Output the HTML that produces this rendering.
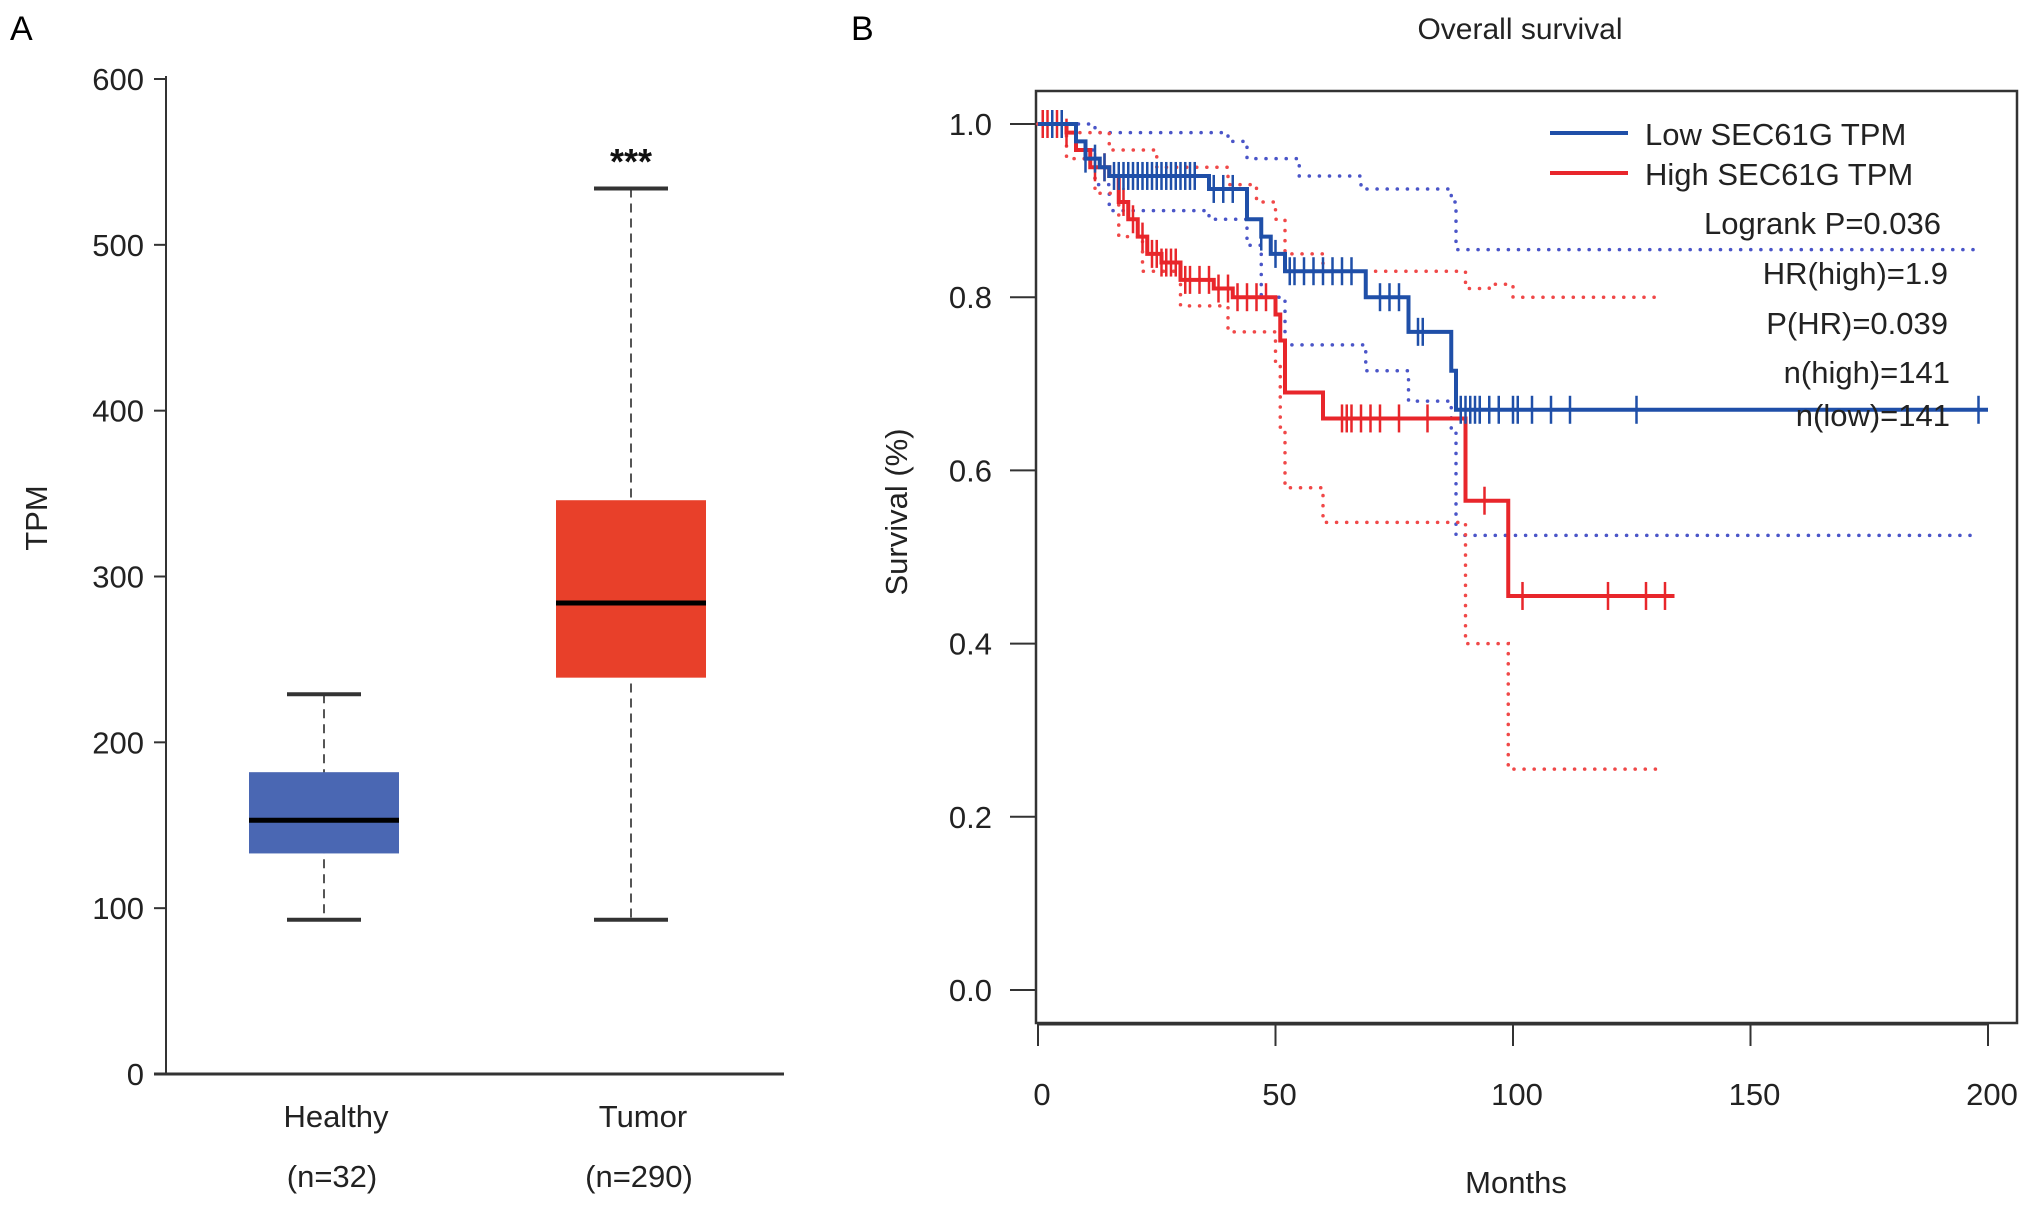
<!DOCTYPE html>
<html><head><meta charset="utf-8"><style>
html,body{margin:0;padding:0;background:#fff;}
svg{display:block;font-family:"Liberation Sans",Arial,sans-serif;}
</style></head><body>
<svg id="fig" width="2031" height="1207" viewBox="0 0 2031 1207" xmlns="http://www.w3.org/2000/svg">
<text x="10" y="40" font-size="34">A</text>
<text x="851" y="40" font-size="34">B</text>
<g id="boxplot"></g>
<g id="km"></g>
</svg>
<script>
// ---- Panel A data ----
const groups = ["Healthy", "Tumor"];
const groupN = ["(n=32)", "(n=290)"];
const whiskerLow = [93, 93];
const q1 = [133, 239];
const medians = [153, 284];
const q3 = [182, 346];
const whiskerHigh = [229, 534];
const boxColors = ["#4a67b3", "#e8402a"];
const tpmTicks = [0, 100, 200, 300, 400, 500, 600];

// ---- Panel B data ----
const kmTicksX = [0, 50, 100, 150, 200];
const kmTicksY = [0.0, 0.2, 0.4, 0.6, 0.8, 1.0];
const lowT = [0, 8, 10, 13, 15, 36, 44, 47, 49, 52, 69, 78, 87, 88, 200];
const lowS = [1.0, 0.98, 0.96, 0.95, 0.94, 0.925, 0.89, 0.87, 0.85, 0.83, 0.80, 0.76, 0.715, 0.67, 0.67];
const highT = [0, 6, 8, 11, 15, 17, 19, 21, 23, 26, 30, 37, 41, 50, 51, 52, 60, 90, 99, 134];
const highS = [1.0, 0.99, 0.97, 0.95, 0.94, 0.91, 0.89, 0.87, 0.85, 0.84, 0.82, 0.81, 0.80, 0.78, 0.75, 0.69, 0.66, 0.565, 0.455, 0.455];
const lowCens = [3, 5, 10, 12, 14, 16, 17, 18, 19, 20, 21, 22, 23, 24, 25, 26, 27, 28, 29, 30, 31, 32, 33, 37, 39, 41, 47, 50, 53, 54, 56, 58, 60, 62, 64, 66, 72, 74, 76, 80, 81, 89, 90, 91, 92, 93, 95, 97, 100, 101, 104, 108, 112, 126, 198];
const highCens = [1, 2, 3, 4, 5, 6, 12, 14, 18, 20, 22, 24, 25, 26, 27, 28, 29, 31, 32, 34, 36, 38, 40, 42, 44, 46, 48, 64, 65, 66, 68, 70, 72, 76, 82, 94, 102, 120, 128, 132];
const lowUpT = [0, 10, 12, 40, 44, 55, 68, 87, 88, 198];
const lowUpS = [1.0, 1.0, 0.99, 0.98, 0.96, 0.94, 0.925, 0.91, 0.855, 0.855];
const lowLoT = [0, 8, 12, 15, 36, 44, 47, 52, 69, 78, 87, 88, 198];
const lowLoS = [1.0, 0.97, 0.93, 0.90, 0.89, 0.86, 0.80, 0.745, 0.715, 0.68, 0.645, 0.525, 0.525];
const highUpT = [0, 8, 15, 25, 40, 46, 50, 52, 60, 90, 95, 100, 131];
const highUpS = [1.0, 0.99, 0.97, 0.95, 0.93, 0.91, 0.89, 0.85, 0.83, 0.81, 0.815, 0.80, 0.80];
const highLoT = [0, 6, 12, 17, 22, 30, 40, 50, 51, 52, 60, 90, 99, 131];
const highLoS = [1.0, 0.96, 0.92, 0.87, 0.83, 0.79, 0.76, 0.72, 0.65, 0.58, 0.54, 0.40, 0.255, 0.255];

const NS = "http://www.w3.org/2000/svg";
function mk(parent, tag, attrs, text) {
  const e = document.createElementNS(NS, tag);
  for (const k in attrs) e.setAttribute(k, attrs[k]);
  if (text !== undefined) e.textContent = text;
  parent.appendChild(e);
  return e;
}

// ===== Panel A =====
const A = document.getElementById('boxplot');
const ay = v => 1074 - v * (995 / 600);
const axCenters = [324, 631];
const boxHalf = 75;
let e;
e = mk(A, 'line', {x1: 166, y1: 76, x2: 166, y2: 1074, stroke: '#333', 'stroke-width': 2});
 
e = mk(A, 'line', {x1: 154, y1: 1074, x2: 784, y2: 1074, stroke: '#333', 'stroke-width': 3});
 
tpmTicks.forEach(t => {
  const y = ay(t);
  e = mk(A, 'line', {x1: 154, y1: y, x2: 166, y2: y, stroke: '#333', 'stroke-width': 2});
   
  e = mk(A, 'text', {x: 144, y: y + 11, 'font-size': 31, 'text-anchor': 'end', fill: '#222'}, String(t));
   
});
e = mk(A, 'text', {x: 47, y: 518, 'font-size': 31, 'text-anchor': 'middle', transform: 'rotate(-90 47 518)', fill: '#222'}, 'TPM');
 
groups.forEach((g, i) => {
  const cx = axCenters[i];
  e = mk(A, 'line', {x1: cx, y1: ay(whiskerHigh[i]), x2: cx, y2: ay(whiskerLow[i]), stroke: '#555', 'stroke-width': 2, 'stroke-dasharray': '9,6'});
   
  [whiskerHigh[i], whiskerLow[i]].forEach(v => {
    e = mk(A, 'line', {x1: cx - 37, y1: ay(v), x2: cx + 37, y2: ay(v), stroke: '#333', 'stroke-width': 4});
     
  });
  e = mk(A, 'rect', {x: cx - boxHalf, y: ay(q3[i]), width: boxHalf * 2, height: ay(q1[i]) - ay(q3[i]), fill: boxColors[i]});
   
  e = mk(A, 'line', {x1: cx - boxHalf, y1: ay(medians[i]), x2: cx + boxHalf, y2: ay(medians[i]), stroke: '#000', 'stroke-width': 5});
   
  e = mk(A, 'text', {x: cx + 12, y: 1127, 'font-size': 31, 'text-anchor': 'middle', fill: '#222'}, g);
   
  e = mk(A, 'text', {x: cx + 8, y: 1187, 'font-size': 31, 'text-anchor': 'middle', fill: '#222'}, groupN[i]);
   
});
e = mk(A, 'text', {x: 631, y: 174, 'font-size': 36, 'font-weight': 'bold', 'text-anchor': 'middle', fill: '#111'}, '***');
 

// ===== Panel B =====
const B = document.getElementById('km');
const kx = m => 1038 + m * 4.75;
const ky = s => 990 - s * 866;
e = mk(B, 'text', {x: 1520, y: 39, 'font-size': 30, 'text-anchor': 'middle', fill: '#222'}, 'Overall survival');
 
e = mk(B, 'rect', {x: 1036, y: 91, width: 981, height: 932, fill: 'none', stroke: '#333', 'stroke-width': 2.5});
 
e = mk(B, 'line', {x1: kx(0), y1: 1024, x2: kx(200), y2: 1024, stroke: '#333', 'stroke-width': 3});
 
kmTicksX.forEach(t => {
  e = mk(B, 'line', {x1: kx(t), y1: 1024, x2: kx(t), y2: 1046, stroke: '#333', 'stroke-width': 2});
   
  e = mk(B, 'text', {x: kx(t) + 4, y: 1105, 'font-size': 31, 'text-anchor': 'middle', fill: '#222'}, String(t));
   
});
kmTicksY.forEach(t => {
  e = mk(B, 'line', {x1: 1010, y1: ky(t), x2: 1036, y2: ky(t), stroke: '#333', 'stroke-width': 2});
   
  e = mk(B, 'text', {x: 992, y: ky(t) + 11, 'font-size': 31, 'text-anchor': 'end', fill: '#222'}, t.toFixed(1));
   
});
e = mk(B, 'text', {x: 1516, y: 1193, 'font-size': 31, 'text-anchor': 'middle', fill: '#222'}, 'Months');
 
e = mk(B, 'text', {x: 907, y: 512, 'font-size': 31, 'text-anchor': 'middle', transform: 'rotate(-90 907 512)', fill: '#222'}, 'Survival (%)');
 

function stepPath(T, S) {
  let d = 'M' + kx(T[0]) + ',' + ky(S[0]);
  for (let i = 1; i < T.length; i++) {
    d += ' H' + kx(T[i]) + ' V' + ky(S[i]);
  }
  return d;
}
function survAt(T, S, t) {
  let s = S[0];
  for (let i = 0; i < T.length; i++) if (T[i] <= t) s = S[i];
  return s;
}
const dotStyle = {fill: 'none', 'stroke-width': 3.5, 'stroke-dasharray': '0.1,10', 'stroke-linecap': 'round'};
function ci(T, S, color, name) {
  const a = Object.assign({d: stepPath(T, S), stroke: color}, dotStyle);
  const el = mk(B, 'path', a);
  
  
}
ci(lowUpT, lowUpS, '#4a55c8', 'low-ci-upper');
ci(lowLoT, lowLoS, '#4a55c8', 'low-ci-lower');
ci(highUpT, highUpS, '#f04848', 'high-ci-upper');
ci(highLoT, highLoS, '#f04848', 'high-ci-lower');

e = mk(B, 'path', {d: stepPath(highT, highS), fill: 'none', stroke: '#e8262b', 'stroke-width': 4});
 
highCens.forEach(t => {
  const y = ky(survAt(highT, highS, t));
  e = mk(B, 'line', {x1: kx(t), y1: y - 14, x2: kx(t), y2: y + 14, stroke: '#e8262b', 'stroke-width': 2.5});
   
});
e = mk(B, 'path', {d: stepPath(lowT, lowS), fill: 'none', stroke: '#1f4fa8', 'stroke-width': 4});
 
lowCens.forEach(t => {
  const y = ky(survAt(lowT, lowS, t));
  e = mk(B, 'line', {x1: kx(t), y1: y - 14, x2: kx(t), y2: y + 14, stroke: '#1f4fa8', 'stroke-width': 2.5});
   
});

// legend
e = mk(B, 'line', {x1: 1550, y1: 133, x2: 1628, y2: 133, stroke: '#1f4fa8', 'stroke-width': 4});
 
e = mk(B, 'text', {x: 1645, y: 145, 'font-size': 31, fill: '#222'}, 'Low SEC61G TPM');
 
e = mk(B, 'line', {x1: 1550, y1: 173, x2: 1628, y2: 173, stroke: '#e8262b', 'stroke-width': 4});
 
e = mk(B, 'text', {x: 1645, y: 185, 'font-size': 31, fill: '#222'}, 'High SEC61G TPM');
 
const stats = [['Logrank P=0.036', 234, 1941], ['HR(high)=1.9', 284, 1948], ['P(HR)=0.039', 334, 1948], ['n(high)=141', 383, 1950], ['n(low)=141', 426, 1950]];
stats.forEach(s => {
  e = mk(B, 'text', {x: s[2], y: s[1], 'font-size': 31, 'text-anchor': 'end', fill: '#222'}, s[0]);
   
});
</script>
</body></html>
